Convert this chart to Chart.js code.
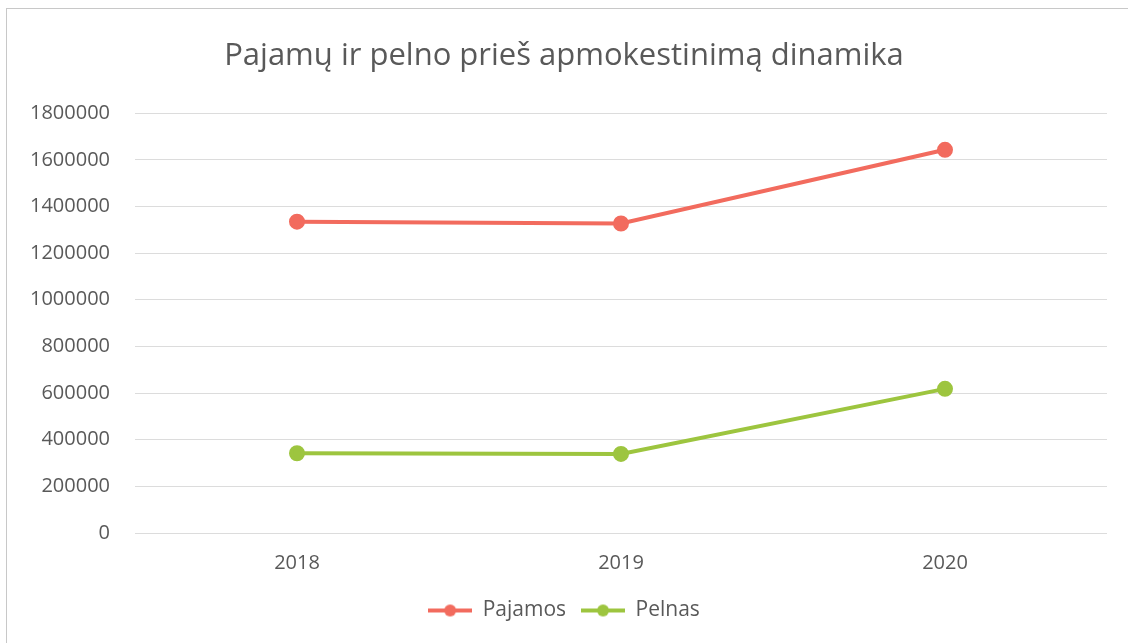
<!DOCTYPE html>
<html>
<head>
<meta charset="utf-8">
<script src="https://cdn.jsdelivr.net/npm/chart.js@4/dist/chart.umd.min.js"></script>
<style>
  html, body { margin: 0; padding: 0; background: #fff; }
  #wrap { position: relative; width: 1128px; height: 643px; }
  #frame { position: absolute; left: 6px; top: 8px; width: 1130px; height: 640px; border: 1px solid #c8c8c8; box-sizing: border-box; }
</style>
</head>
<body>
<div id="wrap">
  <div id="frame"></div>
  <canvas id="myChart" width="1128" height="643"></canvas>
</div>
<script>
const years = ['2018', '2019', '2020'];
const pajamos = [1335000, 1327000, 1643000];
const pelnas = [342000, 339000, 618000];
const yTicks = [0, 200000, 400000, 600000, 800000, 1000000, 1200000, 1400000, 1600000, 1800000];

const RED = '#f26b5e';
const GREEN = '#9dc53f';

// legend marker: line with a dot in the middle, like the office chart
function legendMark(color) {
  const c = document.createElement('canvas');
  c.width = 44; c.height = 14;
  const g = c.getContext('2d');
  g.strokeStyle = color;
  g.lineWidth = 4;
  g.beginPath(); g.moveTo(0, 7); g.lineTo(44, 7); g.stroke();
  g.fillStyle = color;
  g.beginPath(); g.arc(22, 7, 6, 0, Math.PI * 2); g.fill();
  return c;
}

const data = {
  labels: years,
  datasets: [
    {
      label: 'Pajamos',
      data: pajamos,
      borderColor: RED,
      backgroundColor: RED,
      borderWidth: 4,
      pointRadius: 6,
      pointHoverRadius: 6,
      tension: 0
    },
    {
      label: 'Pelnas',
      data: pelnas,
      borderColor: GREEN,
      backgroundColor: GREEN,
      borderWidth: 4,
      pointRadius: 6,
      pointHoverRadius: 6,
      tension: 0
    }
  ]
};

const config = {
  type: 'line',
  data: data,
  options: {
    responsive: false,
    animation: false,
    layout: { padding: { left: 21, right: 21, top: 0, bottom: 12 } },
    scales: {
      x: {
        offset: true,
        grid: { display: false },
        border: { display: false },
        ticks: { color: '#595959', font: { family: 'Open Sans', size: 20 }, padding: 10 }
      },
      y: {
        min: 0,
        max: 1800000,
        afterBuildTicks(axis) { axis.ticks = yTicks.map(v => ({ value: v })); },
        afterFit(axis) { axis.width = 114; },
        grid: { color: '#dcdcdc', lineWidth: 1, drawTicks: false },
        border: { display: false },
        ticks: {
          color: '#595959',
          font: { family: 'Open Sans', size: 20 },
          padding: 25,
          callback: v => String(v)
        }
      }
    },
    plugins: {
      title: {
        display: true,
        text: 'Pajamų ir pelno prieš apmokestinimą dinamika',
        color: '#595959',
        font: { family: 'Open Sans', size: 31, weight: 'normal' },
        padding: { top: 38, bottom: 38 }
      },
      legend: {
        position: 'bottom',
        labels: {
          usePointStyle: true,
          pointStyleWidth: 44,
          color: '#595959',
          font: { family: 'Open Sans', size: 21 },
          padding: 15,
          generateLabels(chart) {
            return chart.data.datasets.map((ds, i) => ({
              text: ds.label,
              pointStyle: legendMark(ds.borderColor),
              fillStyle: ds.borderColor,
              strokeStyle: ds.borderColor,
              fontColor: '#595959',
              lineWidth: 0,
              datasetIndex: i
            }));
          }
        }
      },
      tooltip: { enabled: false }
    }
  }
};

var myChart = new Chart(document.getElementById('myChart'), config);
</script>
</body>
</html>
